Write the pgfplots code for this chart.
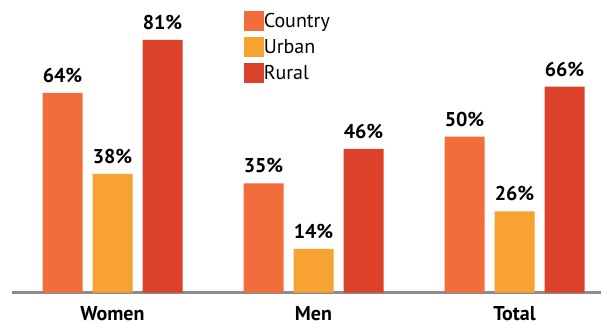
\documentclass[border=0pt]{standalone}
\usepackage{fontspec}
\setmainfont{PT Sans}
\usepackage{pgfplots}
\pgfplotsset{compat=1.18}
\definecolor{cCountry}{HTML}{F26C3C}
\definecolor{cUrban}{HTML}{F7A231}
\definecolor{cRural}{HTML}{DC422A}
\definecolor{cAxis}{HTML}{8C8C8C}
\begin{document}
\begin{tikzpicture}
\useasboundingbox (-12pt,-29.5pt) rectangle (589pt,292.5pt);
\begin{axis}[
  at={(0,0)}, anchor=south west,
  scale only axis, width=589pt, height=292.5pt,
  xmin=-0.5, xmax=2.4303, ymin=0, ymax=93.75,
  axis x line=bottom, axis y line=none,
  axis line style={draw=cAxis, line width=2.4pt, -},
  xtick={0,1,2}, xticklabels={Women,Men,Total},
  xtick style={draw=none},
  xticklabel style={font=\fontsize{20}{22}\selectfont\bfseries, anchor=base, inner sep=0pt, yshift=-23.5pt},
  ytick=\empty,
  ybar, bar width=40pt,
  nodes near coords={\pgfmathprintnumber[assume math mode=true]{\pgfplotspointmeta}\%},
  nodes near coords style={font=\fontsize{20}{22}\selectfont\bfseries, anchor=base, inner sep=0pt, yshift=10.5pt, text=black},
  legend style={at={(0.3932,0.9623)}, anchor=north west, draw=none, fill=none, inner sep=0pt,
    row sep=6pt, font=\fontsize{20}{22}\selectfont,
    nodes={inner sep=0pt, anchor=west},
    /tikz/every even column/.append style={column sep=9pt}},
  legend cell align=left,
  legend image code/.code={\fill[#1] (0pt,-10pt) rectangle (20pt,10pt);},
]
\addplot[fill=cCountry, draw=none, bar shift=-50pt] coordinates {(0,64) (1,35) (2,50)};
\addplot[fill=cUrban, draw=none, bar shift=0pt] coordinates {(0,38) (1,14) (2,26)};
\addplot[fill=cRural, draw=none, bar shift=50pt] coordinates {(0,81) (1,46) (2,66)};
\legend{Country, Urban, Rural}
\end{axis}
\end{tikzpicture}
\end{document}
